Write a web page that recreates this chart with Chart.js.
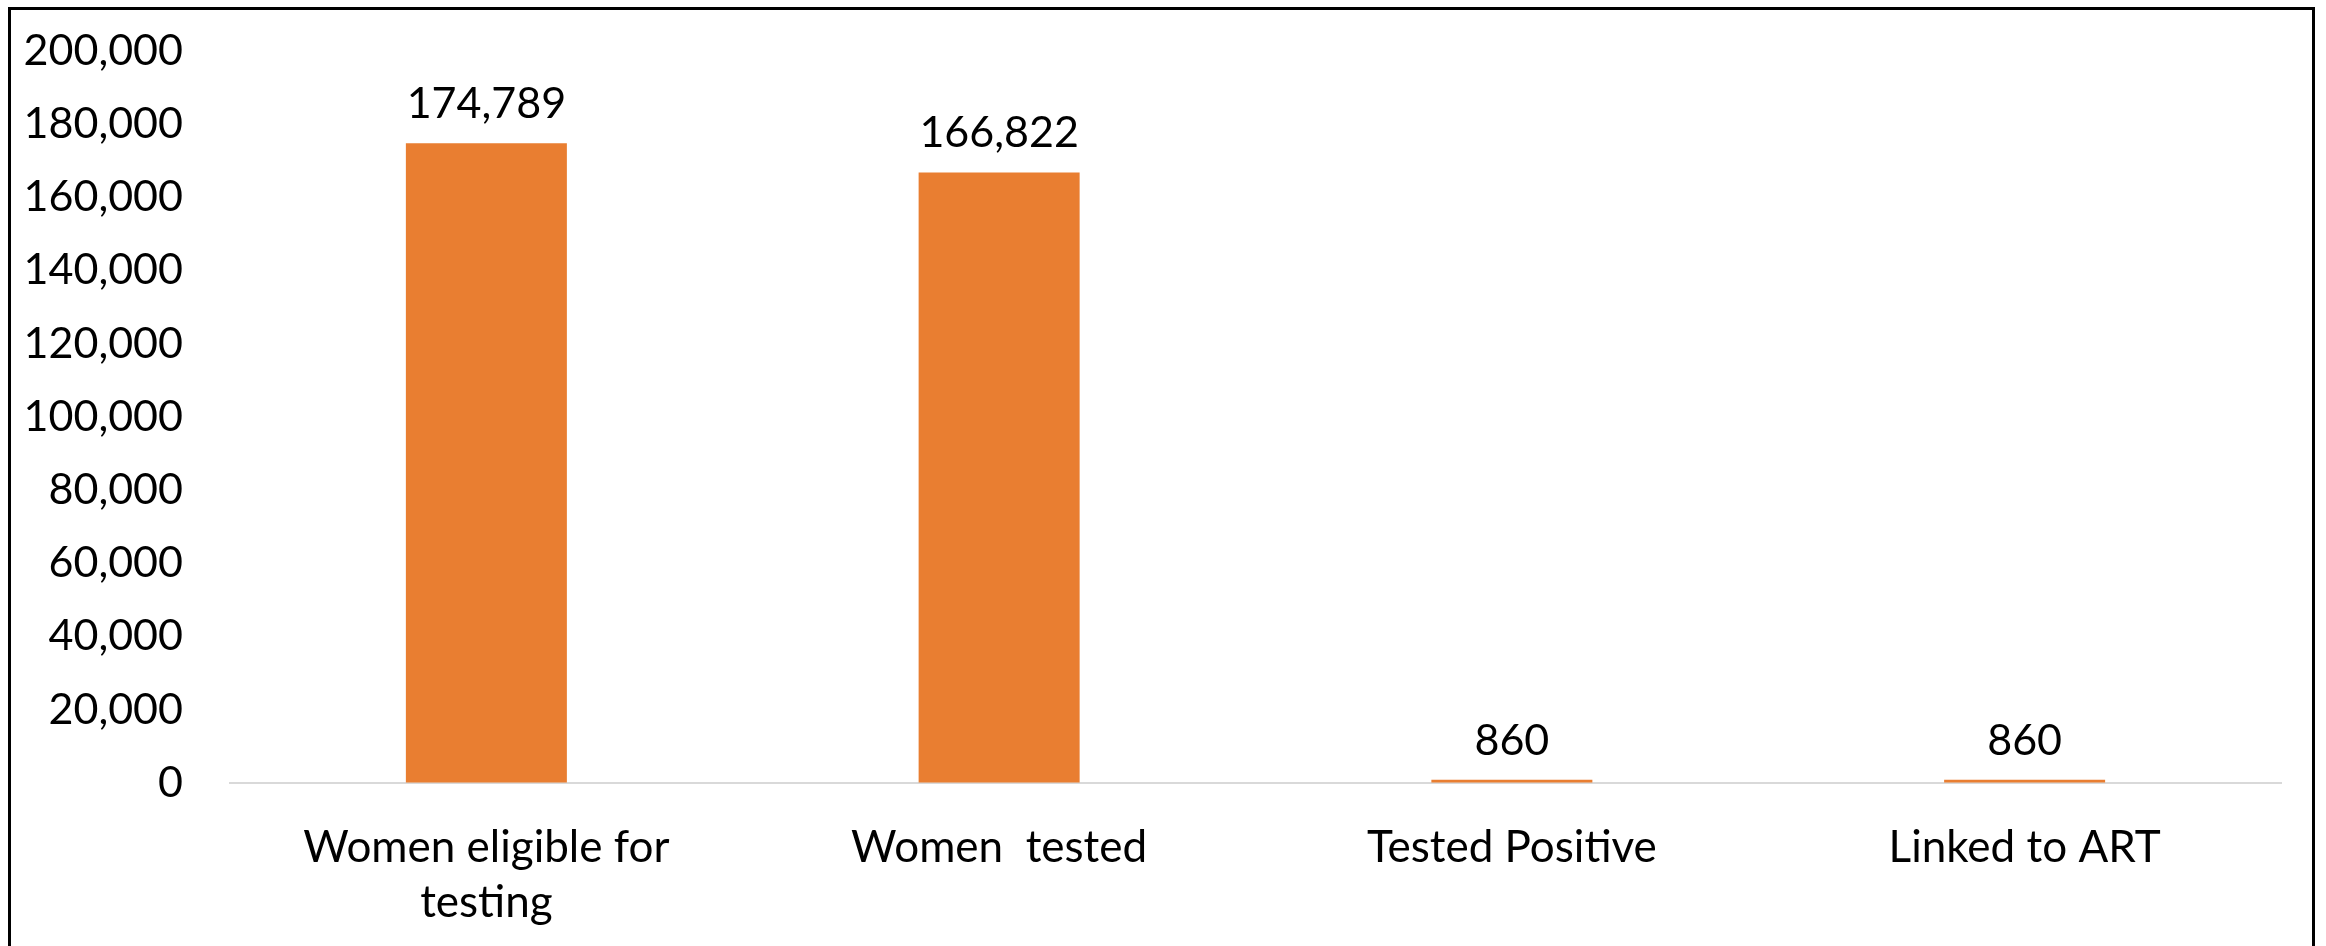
<!DOCTYPE html>
<html>
<head>
<meta charset="utf-8">
<script src="https://cdn.jsdelivr.net/npm/chart.js@4/dist/chart.umd.min.js"></script>
<style>
  html, body { margin: 0; padding: 0; background: #fff; overflow: hidden; }
  #wrap { position: relative; width: 2326px; height: 946px; }
  #frame {
    position: absolute; left: 8px; top: 7px; width: 2301px; height: 960px;
    border: 3px solid #000; border-bottom: none; pointer-events: none;
  }
  canvas { position: absolute; left: 0; top: 0; }
</style>
</head>
<body>
<div id="wrap">
  <canvas id="pmtctChart" width="2326" height="946"></canvas>
  <div id="frame"></div>
</div>
<script>
// cascade data
const categories = [["Women eligible for", "testing"], "Women  tested", "Tested Positive", "Linked to ART"];
const counts = [174789, 166822, 860, 860];
const yTicks = [0, 20000, 40000, 60000, 80000, 100000, 120000, 140000, 160000, 180000, 200000];

const fontFamily = "Lato, 'Open Sans', sans-serif";
const fmt = v => Number(v).toLocaleString("en-US");

// draws the value above each bar
const valueLabels = {
  id: "valueLabels",
  afterDatasetsDraw(chart) {
    const ctx = chart.ctx;
    const meta = chart.getDatasetMeta(0);
    ctx.save();
    ctx.font = "43px " + fontFamily;
    ctx.fillStyle = "#000";
    ctx.textAlign = "center";
    ctx.textBaseline = "middle";
    meta.data.forEach((bar, i) => {
      ctx.fillText(fmt(counts[i]), bar.x, bar.y - 39);
    });
    ctx.restore();
  }
};

const ctx = document.getElementById("pmtctChart").getContext("2d");
new Chart(ctx, {
  type: "bar",
  data: {
    labels: categories,
    datasets: [{
      data: counts,
      backgroundColor: "#E97E31",
      barPercentage: 0.314,
      categoryPercentage: 1
    }]
  },
  options: {
    responsive: false,
    animation: false,
    layout: { padding: { left: 0, right: 45, top: 51, bottom: 0 } },
    plugins: {
      legend: { display: false },
      tooltip: { enabled: false }
    },
    scales: {
      x: {
        grid: { display: false, drawTicks: false },
        border: { display: true, color: "#d9d9d9", width: 2 },
        ticks: {
          color: "#000",
          padding: 37,
          maxRotation: 0,
          font: { family: fontFamily, size: 44, lineHeight: 1.25 }
        },
        afterFit: scale => { scale.height = 163; }
      },
      y: {
        min: 0,
        max: 200000,
        afterBuildTicks: scale => { scale.ticks = yTicks.map(v => ({ value: v })); },
        // invisible tick marks make the gap, so the top padding stays small
        grid: { display: true, drawOnChartArea: false, drawTicks: true, tickLength: 44, tickColor: "rgba(0,0,0,0)" },
        border: { display: false },
        ticks: {
          color: "#000",
          padding: 3,
          callback: v => fmt(v),
          font: { family: fontFamily, size: 43 }
        },
        afterFit: scale => { scale.width = 230; }
      }
    }
  },
  plugins: [valueLabels]
});
</script>
</body>
</html>
